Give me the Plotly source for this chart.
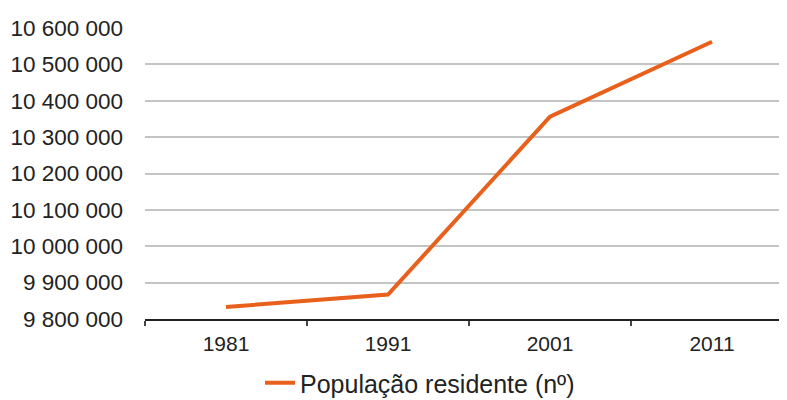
import plotly.graph_objects as go

years = ["1981", "1991", "2001", "2011"]
population = [9833014, 9867147, 10356117, 10562178]
series_name = "População residente (nº)"
y_ticks = [9800000, 9900000, 10000000, 10100000, 10200000, 10300000, 10400000, 10500000, 10600000]

# page body has an 8px margin; size the figure so the screen layout matches
W, H = 779, 392
L, T, PW, PH = 137, 20, 642, 291

fig = go.Figure()
fig.add_trace(go.Scatter(
    x=years, y=population, mode="lines", name=series_name,
    line=dict(color="#E8601C", width=4),
))

fig.update_layout(
    width=W, height=H,
    margin=dict(l=L, r=W - L - PW, t=T, b=H - T - PH, autoexpand=False),
    paper_bgcolor="white", plot_bgcolor="white",
    separators=". ",
    font=dict(family="Liberation Sans, Arial, sans-serif", color="#222222", size=20),
    showlegend=True,
    legend=dict(
        orientation="h", x=(252 - L) / PW, xanchor="left",
        y=-(383 - 8 - (T + PH)) / PH, yanchor="middle",
        font=dict(size=25, color="#222222"),
        bgcolor="rgba(0,0,0,0)",
    ),
    xaxis=dict(
        type="category", range=[-0.5, 3.463],
        showgrid=False, showline=True, linecolor="#222222", linewidth=2,
        ticks="outside", tickson="boundaries", ticklen=5, tickcolor="#444444", tickwidth=2,
        ticklabelstandoff=5,
        tickfont=dict(size=21, color="#222222"),
        fixedrange=True,
    ),
    yaxis=dict(
        range=[9800000, 10600000], tickvals=y_ticks, tickformat=",d",
        showgrid=True, gridcolor="#C4C4C4", gridwidth=2,
        zeroline=False, showline=False,
        ticks="", ticklabelstandoff=21,
        tickfont=dict(size=22.5, color="#222222"),
        fixedrange=True,
    ),
)

fig.write_html("out.html")
